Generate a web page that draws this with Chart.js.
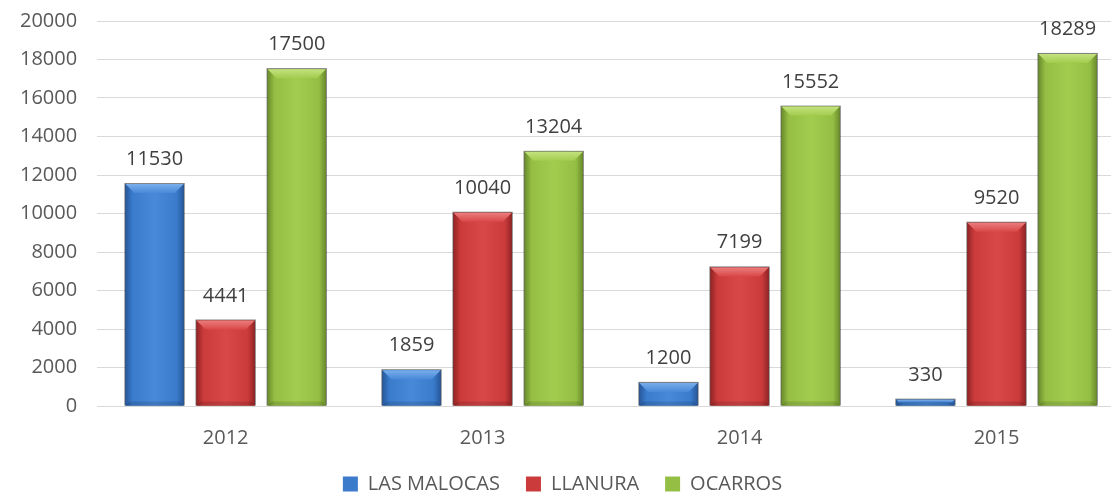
<!DOCTYPE html>
<html lang="es">
<head>
<meta charset="UTF-8">
<title>Población por año</title>
<script src="https://cdn.jsdelivr.net/npm/chart.js"></script>
<style>
    html, body { margin: 0; padding: 0; background: #fff; overflow: hidden; }
    #wrap { position: relative; width: 1125px; height: 515px; top: -11px; }
</style>
</head>
<body>
<div id="wrap"><canvas id="chart"></canvas></div>
<script>
    const years = ['2012', '2013', '2014', '2015'];
    const lasMalocas = [11530, 1859, 1200, 330];
    const llanura = [4441, 10040, 7199, 9520];
    const ocarros = [17500, 13204, 15552, 18289];
    const yTicks = [0, 2000, 4000, 6000, 8000, 10000, 12000, 14000, 16000, 18000, 20000];

    // base, edge (dark), light (bevel top), mid highlight
    const palette = [
        { base: '#3a7bcc', edge: '#27579a', light: '#79aeea', mid: '#4889d9' },
        { base: '#cc3b3b', edge: '#922424', light: '#eb7d7d', mid: '#d94848' },
        { base: '#95bf44', edge: '#6a8c2c', light: '#c3e27e', mid: '#a2cc4e' }
    ];

    // bevel look drawn on top of each bar, reading geometry from the bar elements
    const bevelBars = {
        id: 'bevelBars',
        afterDatasetsDraw(chart) {
            const ctx = chart.ctx;
            chart.data.datasets.forEach((ds, i) => {
                const meta = chart.getDatasetMeta(i);
                const c = palette[i];
                meta.data.forEach(bar => {
                    const w = bar.width, l = bar.x - w / 2, r = bar.x + w / 2;
                    const t = bar.y, b = bar.base, h = b - t;
                    ctx.save();
                    // shadow outline
                    ctx.fillStyle = 'rgba(0,0,0,0.5)';
                    ctx.fillRect(l - 1, t - 1, w + 2, h + 1);
                    // main horizontal gradient
                    const g = ctx.createLinearGradient(l, 0, r, 0);
                    g.addColorStop(0, c.edge);
                    g.addColorStop(0.12, c.base);
                    g.addColorStop(0.5, c.mid);
                    g.addColorStop(0.88, c.base);
                    g.addColorStop(1, c.edge);
                    ctx.fillStyle = g;
                    ctx.fillRect(l, t, w, h);
                    const bv = Math.min(9, h / 2, w / 2);
                    // top bevel
                    ctx.beginPath();
                    ctx.moveTo(l, t); ctx.lineTo(r, t); ctx.lineTo(r - bv, t + bv); ctx.lineTo(l + bv, t + bv); ctx.closePath();
                    const gt = ctx.createLinearGradient(0, t, 0, t + bv);
                    gt.addColorStop(0, c.light);
                    gt.addColorStop(1, c.mid);
                    ctx.fillStyle = gt;
                    ctx.fill();
                    // bottom bevel
                    ctx.beginPath();
                    ctx.moveTo(l, b); ctx.lineTo(r, b); ctx.lineTo(r - 4, b - 4); ctx.lineTo(l + 4, b - 4); ctx.closePath();
                    ctx.fillStyle = 'rgba(0,0,0,0.12)';
                    ctx.fill();
                    ctx.restore();
                });
            });
        }
    };

    const valueLabels = {
        id: 'valueLabels',
        afterDatasetsDraw(chart) {
            const ctx = chart.ctx;
            ctx.save();
            ctx.font = '20px "Open Sans"';
            ctx.fillStyle = '#404040';
            ctx.textAlign = 'center';
            ctx.textBaseline = 'alphabetic';
            chart.data.datasets.forEach((ds, i) => {
                chart.getDatasetMeta(i).data.forEach((bar, j) => {
                    ctx.fillText(String(ds.data[j]), bar.x, bar.y - 19);
                });
            });
            ctx.restore();
        }
    };

    Chart.defaults.font.family = '"Open Sans", sans-serif';

    new Chart(document.getElementById('chart'), {
        type: 'bar',
        data: {
            labels: years,
            datasets: [
                { label: 'LAS MALOCAS', data: lasMalocas, backgroundColor: palette[0].base },
                { label: 'LLANURA', data: llanura, backgroundColor: palette[1].base },
                { label: 'OCARROS', data: ocarros, backgroundColor: palette[2].base }
            ]
        },
        options: {
            responsive: true,
            maintainAspectRatio: false,
            animation: false,
            categoryPercentage: 0.83,
            barPercentage: 0.82,
            layout: { padding: 0 },
            plugins: {
                legend: {
                    position: 'bottom',
                    labels: {
                        boxWidth: 15, boxHeight: 15, padding: 26,
                        color: '#595959', font: { size: 20 }
                    }
                },
                tooltip: { enabled: false }
            },
            scales: {
                x: {
                    grid: { display: false, drawTicks: true, tickLength: 22 },
                    border: { color: '#d9d9d9', width: 1 },
                    ticks: { color: '#595959', font: { size: 20, lineHeight: 1 }, padding: 0 }
                },
                y: {
                    min: 0, max: 20000,
                    afterBuildTicks(scale) { scale.ticks = yTicks.map(v => ({ value: v })); },
                    grid: { color: '#d9d9d9', drawTicks: false },
                    border: { display: false },
                    ticks: { color: '#595959', font: { size: 20 }, padding: 20, callback: v => String(v) }
                }
            }
        },
        plugins: [bevelBars, valueLabels]
    });
</script>
</body>
</html>
